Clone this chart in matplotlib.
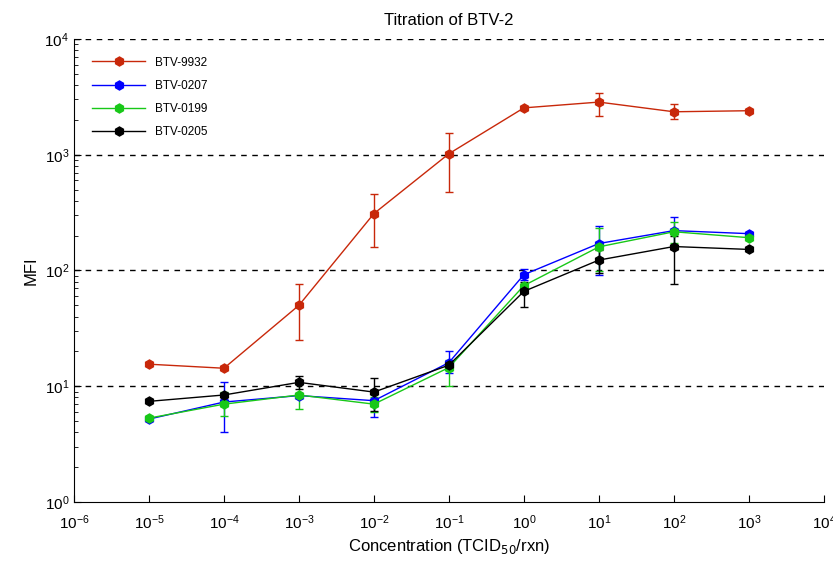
import matplotlib
matplotlib.use("Agg")
import matplotlib.pyplot as plt
from matplotlib.lines import Line2D
import numpy as np

plt.rcParams['font.family'] = ['Liberation Sans', 'DejaVu Sans']
plt.rcParams['axes.unicode_minus'] = False

conc = [1e-5, 1e-4, 1e-3, 1e-2, 1e-1, 1e0, 1e1, 1e2, 1e3]

names = ["BTV-9932", "BTV-0207", "BTV-0199", "BTV-0205"]
colors = ["#C8280A", "#0000FF", "#18C818", "#000000"]

btv9932 = [15.5, 14.3, 50, 310, 1020, 2540, 2850, 2350, 2400]
btv9932_lo = [15.5, 14.3, 25, 160, 480, 2540, 2170, 2040, 2400]
btv9932_hi = [15.5, 14.3, 77, 460, 1550, 2540, 3420, 2760, 2400]

btv0207 = [5.2, 7.3, 8.3, 7.5, 16, 92, 171, 221, 208]
btv0207_lo = [5.2, 4.0, 8.3, 5.4, 13, 82, 92, 160, 208]
btv0207_hi = [5.2, 10.8, 8.3, 9.0, 20, 104, 244, 292, 208]

btv0199 = [5.3, 7.0, 8.4, 7.0, 14.5, 74, 160, 216, 192]
btv0199_lo = [5.3, 5.5, 6.3, 6.0, 10, 74, 98, 174, 192]
btv0199_hi = [5.3, 9.0, 10.5, 8.0, 17, 74, 232, 263, 192]

btv0205 = [7.4, 8.4, 10.8, 8.9, 15.2, 66, 123, 161, 152]
btv0205_lo = [7.4, 8.4, 9.4, 6.1, 15.2, 48, 95, 77, 152]
btv0205_hi = [7.4, 8.4, 12.2, 11.7, 15.2, 80, 150, 200, 152]

series = [
    (btv9932, btv9932_lo, btv9932_hi),
    (btv0207, btv0207_lo, btv0207_hi),
    (btv0199, btv0199_lo, btv0199_hi),
    (btv0205, btv0205_lo, btv0205_hi),
]

fig = plt.figure(figsize=(8.33, 5.69), dpi=100)
ax = fig.add_axes([0.0888, 0.1178, 0.9002, 0.8137])

handles = []
for (y, lo, hi), name, c in zip(series, names, colors):
    y = np.array(y); lo = np.array(lo); hi = np.array(hi)
    yerr = np.vstack([y - lo, hi - y])
    ax.errorbar(conc, y, yerr=yerr, color=c, marker='h', markersize=6.5,
                linewidth=1.0, elinewidth=1.0, capsize=3, capthick=1.0)
    handles.append(Line2D([], [], color=c, marker='h', markersize=6.5,
                          linewidth=1.0, label=name))

ax.set_xscale('log')
ax.set_yscale('log')
ax.set_xlim(1e-6, 1e4)
ax.set_ylim(1, 1e4)
ax.set_xticks([10.0**k for k in range(-6, 5)])
ax.set_yticks([10.0**k for k in range(0, 5)])

for yv in [10, 100, 1000, 10000]:
    ax.axhline(yv, color='black', linestyle=(0, (4, 4)), linewidth=1.0, zorder=0)

ax.spines['top'].set_visible(False)
ax.spines['right'].set_visible(False)
ax.tick_params(axis='both', which='both', direction='in', labelsize=11)
ax.tick_params(axis='both', which='major', length=5)
ax.tick_params(axis='both', which='minor', length=3)
ax.tick_params(axis='x', pad=8)

ax.set_title("Titration of BTV-2", fontsize=12, pad=10)
ax.set_xlabel("Concentration (TCID$_{50}$/rxn)", fontsize=12)
ax.set_ylabel("MFI", fontsize=12)

leg = ax.legend(handles=handles, loc='upper left', frameon=False, fontsize=8.5,
                bbox_to_anchor=(0.01, 0.985), handlelength=4.5,
                labelspacing=0.95)

fig.savefig("out.png", dpi=100)
